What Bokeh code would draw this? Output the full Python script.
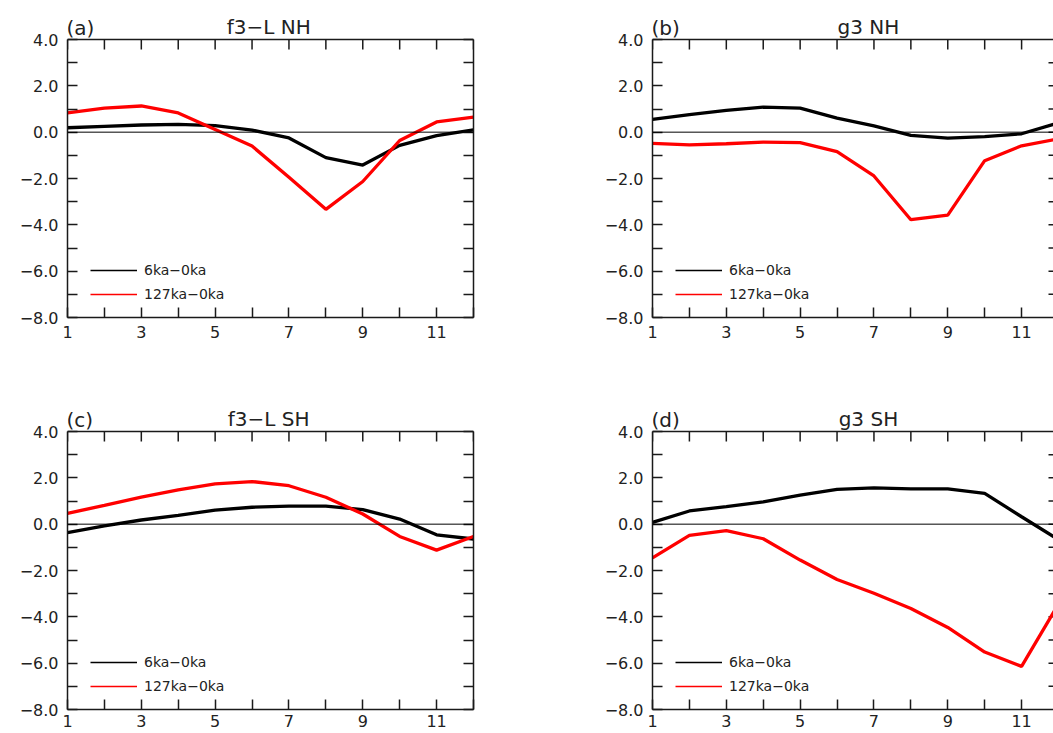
from bokeh.plotting import figure
from bokeh.models import (Range1d, LinearAxis, FixedTicker, Span, Label,
                          Legend, LegendItem)
from bokeh.layouts import column, row
from bokeh.embed import file_html
from bokeh.resources import INLINE

# ---------------- data ----------------
MONTHS = [1, 2, 3, 4, 5, 6, 7, 8, 9, 10, 11, 12]

F3L_NH_6KA = [0.19, 0.25, 0.31, 0.34, 0.28, 0.09, -0.25, -1.10, -1.42, -0.57, -0.15, 0.10]
F3L_NH_127KA = [0.83, 1.04, 1.13, 0.83, 0.12, -0.60, -1.95, -3.33, -2.13, -0.36, 0.44, 0.65]

G3_NH_6KA = [0.55, 0.76, 0.94, 1.08, 1.04, 0.61, 0.27, -0.14, -0.26, -0.19, -0.07, 0.40]
G3_NH_127KA = [-0.48, -0.55, -0.50, -0.43, -0.45, -0.84, -1.89, -3.78, -3.58, -1.23, -0.59, -0.29]

F3L_SH_6KA = [-0.36, -0.07, 0.18, 0.38, 0.61, 0.73, 0.78, 0.78, 0.63, 0.22, -0.46, -0.64]
F3L_SH_127KA = [0.47, 0.81, 1.17, 1.48, 1.74, 1.84, 1.66, 1.16, 0.44, -0.53, -1.12, -0.53]

G3_SH_6KA = [0.08, 0.57, 0.76, 0.96, 1.25, 1.50, 1.57, 1.52, 1.52, 1.33, 0.32, -0.67]
G3_SH_127KA = [-1.45, -0.48, -0.28, -0.63, -1.55, -2.39, -2.98, -3.64, -4.46, -5.52, -6.14, -3.44]

PANEL_LETTERS = ["(a)", "(b)", "(c)", "(d)"]
PANEL_TITLES = ["f3\u2212L NH", "g3 NH", "f3\u2212L SH", "g3 SH"]
SERIES_LABELS = ["6ka\u22120ka", "127ka\u22120ka"]

X_TICKS = [1, 3, 5, 7, 9, 11]
X_MINOR = [2, 4, 6, 8, 10, 12]
Y_TICKS = [-8, -6, -4, -2, 0, 2, 4]
Y_MINOR = [-7, -5, -3, -1, 1, 3]
Y_TICK_LABELS = ["\u22128.0", "\u22126.0", "\u22124.0", "\u22122.0", "0.0", "2.0", "4.0"]
Y_MIN, Y_MAX = -8, 4

# ---------------- styling ----------------
FONT = "DejaVu Sans"
AX_COLOR = "#1a1a1a"
TXT_COLOR = "#222222"
RED = "#ff0000"
PX_PER_X = 406 / 11.0          # pixels per month
PX_PER_Y = 278 / 12.0          # pixels per y unit
HEAD_PX = 30                   # room above the plot box for the panel titles
TICK_PX = 10
NAN = float("nan")


def style_axis(ax, ticker, show_labels, font_size="16px", standoff=8):
    ax.ticker = ticker
    ax.axis_line_color = AX_COLOR
    ax.axis_line_width = 1.5
    ax.major_tick_line_color = AX_COLOR
    ax.minor_tick_line_color = AX_COLOR
    ax.major_tick_line_width = 1.5
    ax.minor_tick_line_width = 1.5
    ax.major_tick_in = TICK_PX
    ax.major_tick_out = 0
    ax.minor_tick_in = TICK_PX
    ax.minor_tick_out = 0
    if show_labels:
        ax.major_label_text_font = FONT
        ax.major_label_text_font_size = font_size
        ax.major_label_text_color = TXT_COLOR
        ax.major_label_standoff = standoff
    else:
        ax.major_label_text_color = None
        ax.major_label_standoff = 0


def make_panel(idx, s6, s127, width, height, left, bottom, right, full_right,
               x_standoff, title_x):
    frame_w = width - left - right
    x_end = 12 if full_right else 1 + frame_w / PX_PER_X
    y_top = Y_MAX + HEAD_PX / PX_PER_Y
    frame_h = (y_top - Y_MIN) * PX_PER_Y
    top = height - bottom - round(frame_h)
    p = figure(width=width, height=height, title=None,
               x_range=Range1d(1, x_end), y_range=Range1d(Y_MIN, y_top),
               toolbar_location=None, output_backend="svg",
               x_axis_location=None, y_axis_location=None,
               min_border_left=left, min_border_right=right,
               min_border_top=top, min_border_bottom=bottom,
               background_fill_color="white", border_fill_color="white")
    p.outline_line_color = None
    p.xgrid.visible = False
    p.ygrid.visible = False

    xt = FixedTicker(ticks=X_TICKS, minor_ticks=X_MINOR)
    yt = FixedTicker(ticks=Y_TICKS, minor_ticks=Y_MINOR)

    xb = LinearAxis()
    style_axis(xb, xt, True, "16px", x_standoff)
    p.add_layout(xb, "below")
    yl = LinearAxis(bounds=(Y_MIN, Y_MAX))
    style_axis(yl, yt, True, "16px", 9)
    yl.major_label_overrides = {float(v): s for v, s in zip(Y_TICKS, Y_TICK_LABELS)}
    p.add_layout(yl, "left")
    if full_right:
        yr = LinearAxis(bounds=(Y_MIN, Y_MAX))
        style_axis(yr, yt, False)
        p.add_layout(yr, "right")
    else:
        # the box's right edge lies just past the page: only the tick stubs show
        inner = sorted(Y_TICKS[1:-1] + Y_MINOR)
        p.segment(x0=[x_end - 5 / PX_PER_X] * len(inner), y0=inner,
                  x1=[x_end] * len(inner), y1=inner,
                  line_color=AX_COLOR, line_width=1.5)

    # top edge of the plot box with its inward ticks
    p.add_layout(Span(location=Y_MAX, dimension="width", line_color=AX_COLOR,
                      line_width=1.5))
    top_ticks = sorted(X_TICKS + X_MINOR)
    p.segment(x0=top_ticks, y0=[Y_MAX] * len(top_ticks),
              x1=top_ticks, y1=[Y_MAX - TICK_PX / PX_PER_Y] * len(top_ticks),
              line_color=AX_COLOR, line_width=1.5)

    p.add_layout(Span(location=0, dimension="width", line_color="black",
                      line_width=1))

    p.line(MONTHS, s6, line_color="black", line_width=3.3)
    p.line(MONTHS, s127, line_color=RED, line_width=3.3)

    # thin legend swatches (legend-only renderers, nothing drawn in the frame)
    r1 = p.line([NAN], [NAN], line_color="black", line_width=1.4)
    r2 = p.line([NAN], [NAN], line_color=RED, line_width=1.4)
    leg = Legend(items=[LegendItem(label=SERIES_LABELS[0], renderers=[r1]),
                        LegendItem(label=SERIES_LABELS[1], renderers=[r2])],
                 location=(23, 13), padding=0, margin=0, spacing=4,
                 glyph_width=47, glyph_height=20, label_height=20,
                 label_standoff=7, label_text_font=FONT,
                 label_text_font_size="14px", label_text_color=TXT_COLOR,
                 border_line_color=None, background_fill_alpha=0)
    p.add_layout(leg)

    p.add_layout(Label(x=1, y=Y_MAX, x_offset=-1, y_offset=12,
                       text=PANEL_LETTERS[idx], text_font=FONT,
                       text_font_size="20px", text_color=TXT_COLOR,
                       text_baseline="alphabetic"))
    p.add_layout(Label(x=title_x, y=Y_MAX, y_offset=13,
                       text=PANEL_TITLES[idx], text_font=FONT,
                       text_font_size="20px", text_color=TXT_COLOR,
                       text_align="center", text_baseline="alphabetic"))
    return p


LEFT_W, RIGHT_W = 593, 460
TOP_H, BOT_H = 392, 341

pa = make_panel(0, F3L_NH_6KA, F3L_NH_127KA, LEFT_W, TOP_H, 67, 75, 120, True, 8, 6.45)
pb = make_panel(1, G3_NH_6KA, G3_NH_127KA, RIGHT_W, TOP_H, 59, 75, 0, False, 8, 6.85)
pc = make_panel(2, F3L_SH_6KA, F3L_SH_127KA, LEFT_W, BOT_H, 67, 24, 120, True, 5, 6.45)
pd = make_panel(3, G3_SH_6KA, G3_SH_127KA, RIGHT_W, BOT_H, 59, 24, 0, False, 5, 6.85)

layout = column(row(pa, pb), row(pc, pd))

open("out.html", "w").write(file_html(layout, INLINE))
